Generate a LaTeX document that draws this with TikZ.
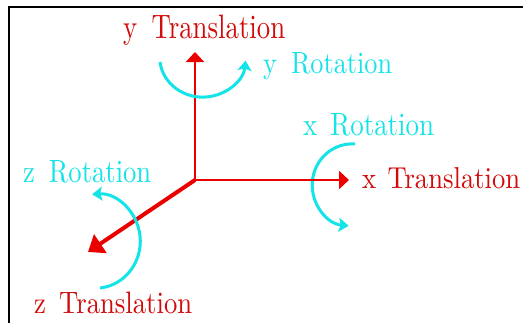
\documentclass[tikz,border=0pt]{standalone}
\usetikzlibrary{arrows.meta}
\definecolor{axisred}{RGB}{235,0,0}
\definecolor{labred}{RGB}{210,10,10}
\definecolor{rotcyan}{RGB}{20,228,232}
\newcommand{\fitlabel}[3]{\resizebox{#1pt}{#2pt}{#3}}
\begin{document}
\begin{tikzpicture}[x=1pt,y=-1pt,
  axisline/.style={draw=axisred, line width=2pt, -{Triangle[length=10pt,width=18pt]}},
  zaxisline/.style={draw=axisred, line width=4pt, -{Triangle[length=15pt,width=22pt]}},
  rotarc/.style={draw=rotcyan, line width=3pt, -{Stealth[length=10pt,width=14pt,inset=2pt]}},
  tlabel/.style={text=labred, inner sep=0pt, anchor=base west},
  rlabel/.style={text=rotcyan, inner sep=0pt, anchor=base west}]
\useasboundingbox (0,0) rectangle (523,322);
\clip (0,0) rectangle (523,322);
\fill[white] (0,0) rectangle (523,322);
\draw[line width=2.5pt] (9,340) -- (9,7) -- (540,7);

\coordinate (O) at (195,180);
\coordinate (Y) at (195,52);
\coordinate (X) at (349,180);
\coordinate (Z) at (88,252);

\draw[axisline] (O) -- (Y);
\draw[zaxisline] (O) -- (Z);

% rotation arcs
\draw[rotarc] (160,62) arc[start angle=173,end angle=5,x radius=43,y radius=40];
\draw[rotarc] (100,288) arc[start angle=84,end angle=-94,x radius=45,y radius=47];
\draw[rotarc] (355,144) arc[start angle=274,end angle=95,x radius=40,y radius=41];
\draw[axisline] (O) -- (X);

% labels
\node[tlabel] (ytr) at (123,38.5) {\fitlabel{162}{23.5}{y\hspace{0.2em} Translation}};
\node[rlabel] (yrot) at (263,73.5) {\fitlabel{129}{21}{y\hspace{0.2em} Rotation}};
\node[rlabel] (xrot) at (303,135.5) {\fitlabel{131}{22}{x\hspace{0.15em} Rotation}};
\node[tlabel] (xtr) at (362,188) {\fitlabel{158}{21}{x\hspace{0.09em} Translation}};
\node[rlabel] (zrot) at (23,182) {\fitlabel{128}{22}{z\hspace{0.19em} Rotation}};
\node[tlabel] (ztr) at (34,313) {\fitlabel{158}{21.5}{z\hspace{0.16em} Translation}};
\end{tikzpicture}
\end{document}
